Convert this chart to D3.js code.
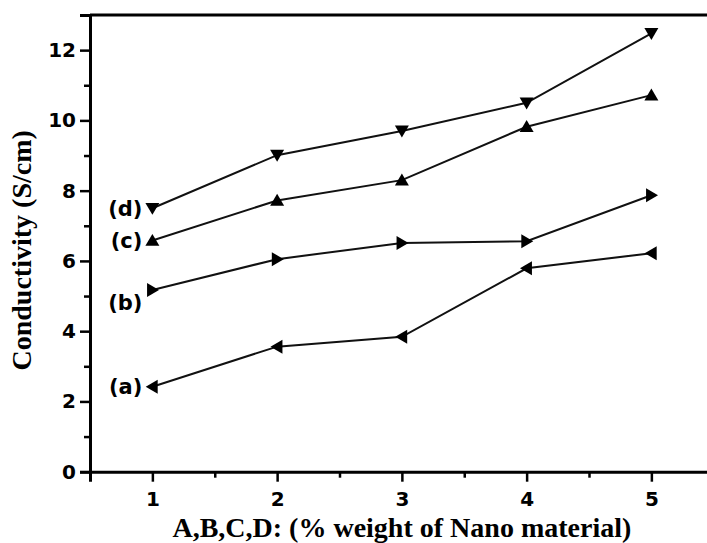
<!DOCTYPE html>
<html>
<head>
<meta charset="utf-8">
<script src="https://cdn.jsdelivr.net/npm/d3@7"></script>
<style>
  body { margin: 0; background: #fff; }
  svg { display: block; }
</style>
</head>
<body>
<script>
// values
const weights = [1, 2, 3, 4, 5];
const seriesNames = ['(a)', '(b)', '(c)', '(d)'];
const seriesA = [2.42, 3.56, 3.84, 5.79, 6.22];
const seriesB = [5.17, 6.05, 6.51, 6.56, 7.87];
const seriesC = [6.58, 7.72, 8.30, 9.82, 10.72];
const seriesD = [7.50, 9.01, 9.70, 10.50, 12.48];
const yTicks = [0, 2, 4, 6, 8, 10, 12];

function triangle(dir, r) {
  // dir: 'left' | 'right' | 'up' | 'down'
  const h = r * 0.95;
  if (dir === 'up') return `M0,${-h}L${r},${h * 0.8}L${-r},${h * 0.8}Z`;
  if (dir === 'down') return `M0,${h}L${r},${-h * 0.8}L${-r},${-h * 0.8}Z`;
  if (dir === 'left') return `M${-h},0L${h * 0.8},${-r}L${h * 0.8},${r}Z`;
  return `M${h},0L${-h * 0.8},${-r}L${-h * 0.8},${r}Z`;
}

function main() {
  const width = 707;
  const height = 543;
  const svg = d3.select('body').append('svg')
    .attr('width', width)
    .attr('height', height);

  const x = d3.scaleLinear().domain([0.5, 5.5]).range([90, 713.75]);
  const y = d3.scaleLinear().domain([0, 13]).range([471.7, 15]);

  const series = [
    { name: seriesNames[0], values: seriesA, dir: 'left', dy: 0 },
    { name: seriesNames[1], values: seriesB, dir: 'right', dy: 12 },
    { name: seriesNames[2], values: seriesC, dir: 'up', dy: 0 },
    { name: seriesNames[3], values: seriesD, dir: 'down', dy: 0 },
  ];

  const tickFont = 'DejaVu Sans, sans-serif';
  const titleFont = 'Liberation Serif, Times New Roman, serif';

  // y axis, major + minor
  svg.append('g')
    .attr('transform', `translate(${x.range()[0]},0)`)
    .call(d3.axisLeft(y).tickValues(yTicks).tickSize(10).tickPadding(4)
      .tickFormat(d3.format('d')));
  svg.append('g')
    .attr('transform', `translate(${x.range()[0]},0)`)
    .call(d3.axisLeft(y).tickValues(d3.range(1, 13, 2)).tickSize(6).tickFormat(''))
    .call(g => g.select('.domain').remove());

  // x axis, major + minor
  svg.append('g')
    .attr('transform', `translate(0,${y(0)})`)
    .call(d3.axisBottom(x).tickValues(weights).tickSize(10).tickPadding(10)
      .tickFormat(d3.format('d')));
  svg.append('g')
    .attr('transform', `translate(0,${y(0)})`)
    .call(d3.axisBottom(x).tickValues(d3.range(1.5, 5.5, 1)).tickSize(6).tickFormat(''))
    .call(g => g.select('.domain').remove());

  svg.selectAll('.domain')
    .attr('stroke', '#000')
    .attr('stroke-width', 3);
  svg.selectAll('.tick line')
    .attr('stroke', '#000')
    .attr('stroke-width', 2.5);
  svg.selectAll('.tick text')
    .attr('fill', '#000')
    .style('font-family', tickFont)
    .style('font-weight', 'bold')
    .style('font-size', '20px');

  // top frame line
  svg.append('line')
    .attr('x1', x.range()[0])
    .attr('x2', x.range()[1])
    .attr('y1', y.range()[1])
    .attr('y2', y.range()[1])
    .attr('stroke', '#000')
    .attr('stroke-width', 3);

  const line = d3.line()
    .x((d, i) => x(weights[i]))
    .y(d => y(d));

  const groups = svg.append('g')
    .selectAll('.data-series')
    .data(series)
    .enter()
    .append('g');

  groups.append('path')
    .attr('d', d => line(d.values))
    .attr('fill', 'none')
    .attr('stroke', '#111')
    .attr('stroke-width', 2);

  groups.selectAll('.data-point')
    .data(d => d.values.map((v, i) => ({ v, i, dir: d.dir })))
    .enter()
    .append('path')
    .attr('transform', d => `translate(${x(weights[d.i])},${y(d.v)})`)
    .attr('d', d => triangle(d.dir, 7))
    .attr('fill', '#000');

  groups.append('text')
    .attr('x', x(weights[0]) - 10)
    .attr('y', d => y(d.values[0]) + d.dy)
    .attr('dy', '0.36em')
    .attr('text-anchor', 'end')
    .style('font-family', tickFont)
    .style('font-weight', 'bold')
    .style('font-size', '21px')
    .text(d => d.name);

  // axis titles
  svg.append('text')
    .attr('transform', `translate(31,${(y.range()[0] + y.range()[1]) / 2 + 7}) rotate(-90)`)
    .attr('text-anchor', 'middle')
    .style('font-family', titleFont)
    .style('font-weight', 'bold')
    .style('font-size', '28px')
    .text('Conductivity (S/cm)');

  svg.append('text')
    .attr('x', (x.range()[0] + x.range()[1]) / 2)
    .attr('y', 537)
    .attr('text-anchor', 'middle')
    .style('font-family', titleFont)
    .style('font-weight', 'bold')
    .style('font-size', '28px')
    .text('A,B,C,D: (% weight of Nano material)');
}

main();
</script>
</body>
</html>
